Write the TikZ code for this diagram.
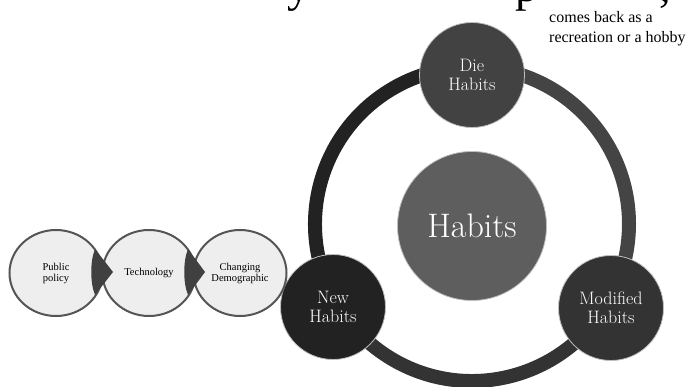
\documentclass[tikz,border=0pt]{standalone}
\usepackage{fontspec}
\newfontfamily\timesf{Liberation Serif}
\usetikzlibrary{shapes.geometric,calc}
\definecolor{ringR}{HTML}{444444}
\definecolor{ringB}{HTML}{333333}
\definecolor{ringL}{HTML}{222222}
\definecolor{dieC}{HTML}{424242}
\definecolor{newC}{HTML}{222222}
\definecolor{modC}{HTML}{333333}
\definecolor{midC}{HTML}{5E5E5E}
\definecolor{chainLine}{HTML}{555555}
\definecolor{chainFill}{HTML}{EEEEEE}
\definecolor{arrowC}{HTML}{404040}
\tikzset{
  ringseg/.style={line width=14pt},
  darknode/.style={circle, draw=white!75!black, line width=0.8pt, text=white, align=center,
    font=\fontsize{18}{19}\selectfont, inner sep=0pt, minimum size=105pt},
  chainnode/.style={ellipse, draw=chainLine, line width=2pt, fill=chainFill, align=center,
    minimum width=93pt, minimum height=86pt, inner sep=0pt,
    font=\timesf\fontsize{10.5}{11}\selectfont},
  tri/.style={fill=arrowC},
  note/.style={anchor=base west, inner sep=0pt, font=\timesf\fontsize{16}{19}\selectfont},
  frag/.style={anchor=base, inner sep=0pt, font=\timesf\fontsize{46}{46}\selectfont},
}
\begin{document}
\begin{tikzpicture}[x=1pt,y=-1pt]
\useasboundingbox (0,0) rectangle (690,387);
\begin{scope}
\clip (0,0) rectangle (690,387);
% fragments of a line of text above the picture
\node[frag] (fy) at (299,2) {y};
\node[frag] (fp) at (527,2) {p};
\node[frag] (fc) at (665,2) {,};
% ring
\coordinate (rc) at (472,224);
\draw[ringseg, ringR] ($(rc)+(-90:157)$) arc[start angle=-90, end angle=31, radius=157];
\draw[ringseg, ringB] ($(rc)+(31:157)$) arc[start angle=31, end angle=149, radius=157];
\draw[ringseg, ringL] ($(rc)+(149:157)$) arc[start angle=149, end angle=270, radius=157];
\end{scope}
% cycle nodes
\node[darknode, fill=midC, minimum size=149pt, font=\fontsize{34}{36}\selectfont] (hab) at (472,226) {Habits};
\node[darknode, fill=dieC] (die) at (472,75) {Die\\Habits};
\node[darknode, fill=newC] (new) at (333,307) {New\\Habits};
\node[darknode, fill=modC] (mod) at (611,308) {Modified\\Habits};
% left chain
\node[chainnode] (pub) at (56,273) {Public\\policy};
\node[chainnode] (tec) at (149,273) {Technology};
\node[chainnode] (cha) at (240,273) {Changing\\Demographic};
\fill[tri] ($(pub.center)+(39,-24)$) -- ($(pub.center)+(57,-1)$) -- ($(pub.center)+(39,22)$)
  .. controls ($(pub.center)+(34,10)$) and ($(pub.center)+(34,-12)$) .. ($(pub.center)+(39,-24)$);
\fill[tri] ($(tec.center)+(39,-24)$) -- ($(tec.center)+(56,-1)$) -- ($(tec.center)+(39,22)$)
  .. controls ($(tec.center)+(34,10)$) and ($(tec.center)+(34,-12)$) .. ($(tec.center)+(39,-24)$);
% note
\node[note] (n1) at (549,23) {comes back as a};
\node[note] (n2) at (549,43) {recreation or a hobby};
\end{tikzpicture}
\end{document}
